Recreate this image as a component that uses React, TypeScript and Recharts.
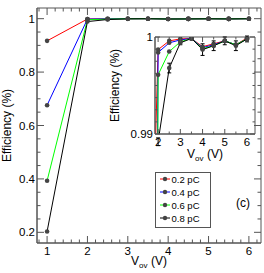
import { LineChart, Line, XAxis, YAxis, ReferenceArea, ErrorBar } from 'recharts';

const FONT = '"Liberation Sans", Arial, sans-serif';
const AXIS = '#555';
const DOT = '#444';

// overvoltage points (V)
const voltages = [1, 2, 2.5, 3, 3.5, 4, 4.5, 5, 5.5, 6];

// efficiency per charge threshold
const eff02 = [0.917, 0.9987, 0.9996, 0.9998, 0.99985, 0.999, 0.9993, 0.9996, 0.9992, 0.9999];
const eff04 = [0.676, 0.9984, 0.9994, 0.9997, 0.99985, 0.9989, 0.9992, 0.9996, 0.9992, 0.9998];
const eff06 = [0.393, 0.9961, 0.9985, 0.9995, 0.99985, 0.9988, 0.9991, 0.9996, 0.9992, 0.9998];
const eff08 = [0.203, 0.9892, 0.9968, 0.9994, 0.99985, 0.9987, 0.9991, 0.9996, 0.9991, 0.9998];
const err08 = [0, 0.0004, 0.0005, 0.0002, 0.0001, 0.0006, 0.0005, 0.0004, 0.0005, 0.0003];

const seriesNames = ['0.2 pC', '0.4 pC', '0.6 pC', '0.8 pC'];
const seriesKeys = ['q02', 'q04', 'q06', 'q08'];
const seriesColors = ['#ff0000', '#0000ff', '#00ff00', '#000000'];

const mainXMajor = [1, 2, 3, 4, 5, 6];
const mainYMajor = [0.2, 0.4, 0.6, 0.8, 1];
const insetXMajor = [2, 3, 4, 5, 6];
const insetYMajor = [0.99, 1];

const data = voltages.map((v, i) => ({
  v,
  q02: eff02[i],
  q04: eff04[i],
  q06: eff06[i],
  q08: eff08[i],
  e08: err08[i],
}));

const steps = (from: number, to: number, step: number) => {
  const out: number[] = [];
  const n = Math.round((to - from) / step);
  for (let i = 0; i <= n; i++) out.push(+(from + i * step).toFixed(6));
  return out;
};

const findMajor = (majors: number[], v: number) => majors.find((m) => Math.abs(m - v) < 1e-7);

type TickCfg = { majors: number[]; len: number; minor: number; span: number; fs: number; dy: number };

const XTick = ({ x, y, payload, cfg }: any) => {
  const m = findMajor(cfg.majors, payload.value);
  const l = m !== undefined ? cfg.len : cfg.minor;
  return (
    <g>
      <line x1={x} y1={y} x2={x} y2={y - l} stroke={AXIS} />
      <line x1={x} y1={y - cfg.span} x2={x} y2={y - cfg.span + l} stroke={AXIS} />
      {m !== undefined && (
        <text x={x} y={y + cfg.dy} textAnchor="middle" fontSize={cfg.fs} fontFamily={FONT} fill="#000">
          {String(m)}
        </text>
      )}
    </g>
  );
};

const YTick = ({ x, y, payload, cfg }: any) => {
  const m = findMajor(cfg.majors, payload.value);
  const l = m !== undefined ? cfg.len : cfg.minor;
  return (
    <g>
      <line x1={x} y1={y} x2={x + l} y2={y} stroke={AXIS} />
      <line x1={x + cfg.span} y1={y} x2={x + cfg.span - l} y2={y} stroke={AXIS} />
      {m !== undefined && (
        <text x={x - 2} y={y + cfg.dy} textAnchor="end" fontSize={cfg.fs} fontFamily={FONT} fill="#000">
          {String(m)}
        </text>
      )}
    </g>
  );
};

const XTitle = ({ viewBox, dy }: any) => (
  <text x={viewBox.x + viewBox.width / 2} y={viewBox.y + dy} textAnchor="middle" fontSize={12} fontFamily={FONT} fill="#000">
    V<tspan fontSize={8} dy={3}>ov</tspan>
    <tspan dy={-3}> (V)</tspan>
  </text>
);

const YTitle = ({ viewBox, dx }: any) => {
  const cx = viewBox.x + dx;
  const cy = viewBox.y + viewBox.height / 2;
  return (
    <text x={cx} y={cy} transform={`rotate(-90 ${cx} ${cy})`} textAnchor="middle" fontSize={12} fontFamily={FONT} fill="#000">
      Efficiency (%)
    </text>
  );
};

const mainX: TickCfg = { majors: mainXMajor, len: 7, minor: 3.5, span: 235, fs: 11.5, dy: 11.5 };
const mainY: TickCfg = { majors: mainYMajor, len: 7, minor: 3.5, span: 224, fs: 11.5, dy: 4 };
const insetX: TickCfg = { majors: insetXMajor, len: 5, minor: 2.5, span: 97, fs: 11.5, dy: 12 };
const insetY: TickCfg = { majors: insetYMajor, len: 5, minor: 2.5, span: 100, fs: 11.5, dy: 4 };

const dotStyle = { r: 2.3, fill: DOT, stroke: DOT, strokeWidth: 0 };

const renderLines = (withErrors: boolean) =>
  seriesKeys.map((k, i) => (
    <Line
      key={k}
      dataKey={k}
      type="linear"
      stroke={seriesColors[i]}
      strokeWidth={1}
      dot={dotStyle}
      activeDot={false}
      isAnimationActive={false}
    >
      {withErrors && k === 'q08' && (
        <ErrorBar dataKey="e08" direction="y" width={2} stroke="#000" strokeWidth={1} isAnimationActive={false} />
      )}
    </Line>
  ));

const Legendbox = () => (
  <div style={{ position: 'absolute', left: 155, top: 172, width: 56, height: 56, border: `1px solid ${AXIS}`, background: '#fff', boxSizing: 'border-box' }}>
    <svg width={54} height={54}>
      {seriesNames.map((name, i) => {
        const y = 6 + i * 13;
        return (
          <g key={name}>
            <line x1={4} y1={y} x2={14} y2={y} stroke={seriesColors[i]} />
            <circle cx={9} cy={y} r={2.2} fill={DOT} />
            <text x={15.5} y={y + 3.5} fontSize={9.5} fontFamily={FONT} fill="#000">
              {name}
            </text>
          </g>
        );
      })}
    </svg>
  </div>
);

export default function App() {
  return (
    <div style={{ position: 'absolute', left: 0, top: 0, width: 264, height: 273, background: '#fff' }}>
      <LineChart width={264} height={273} data={data} margin={{ top: 8, right: 3, bottom: 0, left: 0 }}>
        <XAxis
          dataKey="v"
          type="number"
          domain={[0.75, 6.3]}
          allowDataOverflow
          ticks={steps(0.8, 6.2, 0.2)}
          interval={0}
          tickLine={false}
          tickSize={0}
          tickMargin={0}
          height={30}
          axisLine={{ stroke: AXIS }}
          tick={(p: any) => <XTick {...p} cfg={mainX} />}
          label={(p: any) => <XTitle viewBox={p.viewBox} dy={22} />}
        />
        <YAxis
          type="number"
          domain={[0.16, 1.04]}
          allowDataOverflow
          ticks={steps(0.2, 1, 0.05)}
          interval={0}
          tickLine={false}
          tickSize={0}
          tickMargin={0}
          width={37}
          axisLine={{ stroke: AXIS }}
          tick={(p: any) => <YTick {...p} cfg={mainY} />}
          label={(p: any) => <YTitle viewBox={p.viewBox} dx={10.5} />}
        />
        <ReferenceArea x1={0.75} x2={6.3} y1={0.16} y2={1.04} fill="none" stroke={AXIS} />
        {renderLines(false)}
      </LineChart>

      <div style={{ position: 'absolute', left: 105, top: 29 }}>
        <LineChart width={155} height={136} data={data} margin={{ top: 8, right: 5, bottom: 0, left: 0 }}>
          <XAxis
            dataKey="v"
            type="number"
            domain={[1.86, 6.36]}
            allowDataOverflow
            ticks={steps(2, 6, 0.5)}
            interval={0}
            tickLine={false}
            tickSize={0}
            tickMargin={0}
            height={31}
            axisLine={{ stroke: AXIS }}
            tick={(p: any) => <XTick {...p} cfg={insetX} />}
            label={(p: any) => <XTitle viewBox={p.viewBox} dy={24} />}
          />
          <YAxis
            type="number"
            domain={[0.99, 1]}
            allowDataOverflow
            ticks={steps(0.99, 1, 0.00125)}
            interval={0}
            tickLine={false}
            tickSize={0}
            tickMargin={0}
            width={50}
            axisLine={{ stroke: AXIS }}
            tick={(p: any) => <YTick {...p} cfg={insetY} />}
            label={(p: any) => <YTitle viewBox={p.viewBox} dx={13.5} />}
          />
          <ReferenceArea x1={1.86} x2={6.36} y1={0.99} y2={1} fill="none" stroke={AXIS} />
          {renderLines(true)}
        </LineChart>
      </div>

      <Legendbox />
      <div style={{ position: 'absolute', left: 236, top: 196, fontSize: 12, fontFamily: FONT, lineHeight: '14px' }}>(c)</div>
    </div>
  );
}
